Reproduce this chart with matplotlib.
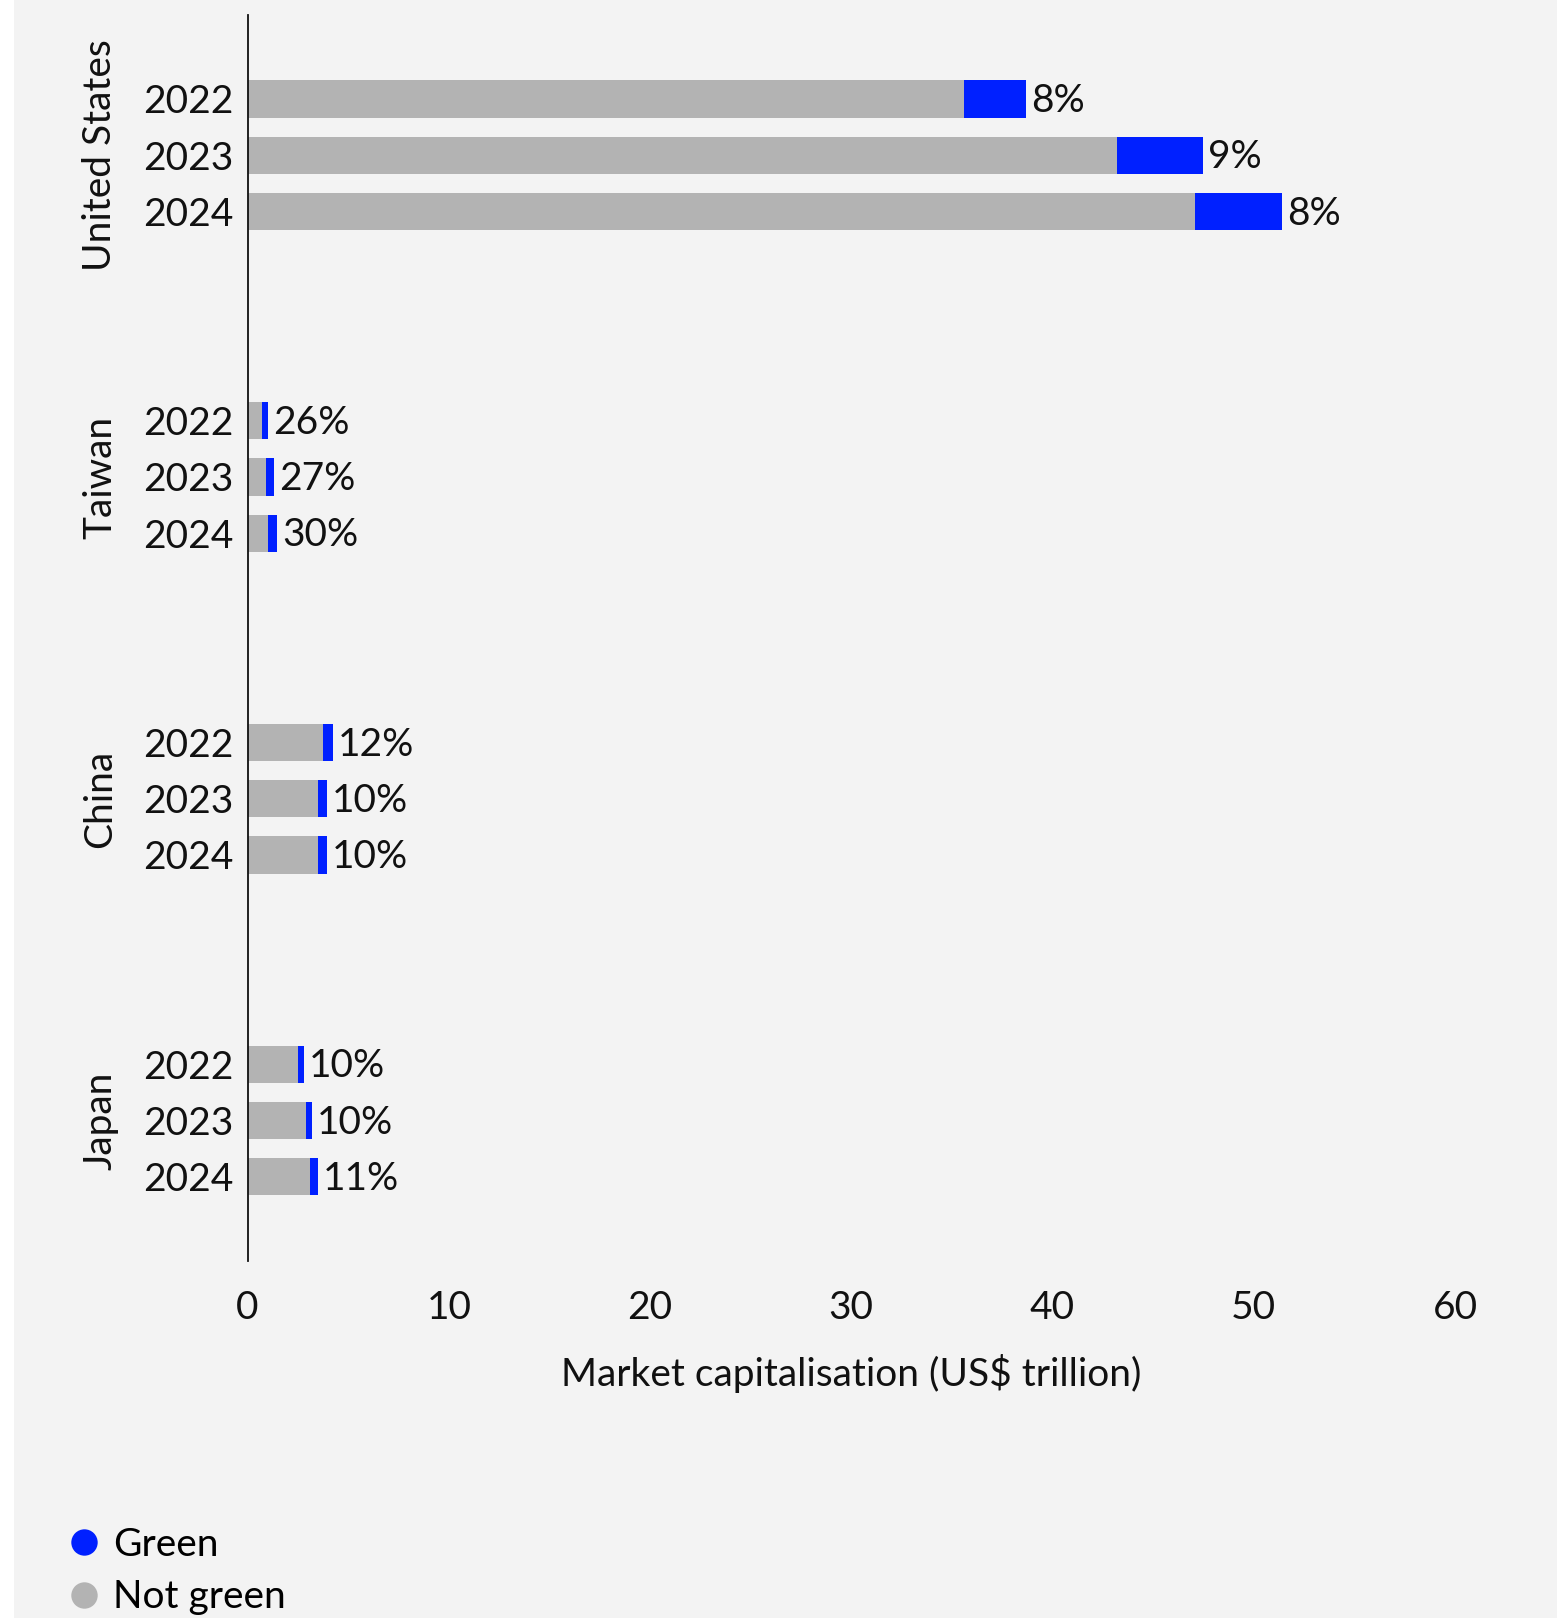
import matplotlib
matplotlib.use("Agg")
import matplotlib.pyplot as plt
from matplotlib.lines import Line2D
from matplotlib.patches import Rectangle
import matplotlib.transforms as mtransforms

plt.rcParams['font.family'] = ['Lato', 'DejaVu Sans']

countries = ["United States", "Taiwan", "China", "Japan"]
years = ["2022", "2023", "2024"]
# Market capitalisation, US$ trillion
not_green = [[35.6, 43.2, 47.1],
             [0.72, 0.92, 1.02],
             [3.75, 3.50, 3.50],
             [2.50, 2.88, 3.10]]
green = [[3.1, 4.3, 4.3],
         [0.28, 0.38, 0.44],
         [0.50, 0.45, 0.45],
         [0.30, 0.33, 0.40]]
pct_labels = [["8%", "9%", "8%"],
              ["26%", "27%", "30%"],
              ["12%", "10%", "10%"],
              ["10%", "10%", "11%"]]
xticks = [0, 10, 20, 30, 40, 50, 60]
xlabel = "Market capitalisation (US$ trillion)"
legend_labels = ["Green", "Not green"]

BLUE = "#0020ff"
GRAY = "#b3b3b3"
BG = "#f3f3f3"
TXT = "#111111"

fig = plt.figure(figsize=(15.57, 16.18), dpi=100)
fig.patch.set_facecolor("white")
fig.patches.append(Rectangle((14 / 1557, 0), 1, 1, transform=fig.transFigure,
                             facecolor=BG, edgecolor="none", zorder=-10))

ax = fig.add_axes([0.159, 0.2206, 0.9345 - 0.159, 0.991 - 0.2206])
ax.set_facecolor("none")

group_step = 5.72
positions, ylabels = [], []
for i, c in enumerate(countries):
    for j, y in enumerate(years):
        pos = i * group_step + j
        positions.append(pos)
        ylabels.append(y)
        ng = not_green[i][j]
        g = green[i][j]
        ax.barh(pos, ng, height=0.66, color=GRAY, edgecolor="none")
        ax.barh(pos, g, left=ng, height=0.66, color=BLUE, edgecolor="none")
        ax.text(ng + g + 0.25, pos + 0.04, pct_labels[i][j], va="center", ha="left",
                fontsize=28, color=TXT)
    trans = mtransforms.blended_transform_factory(fig.transFigure, ax.transData)
    ax.text(100 / 1557, i * group_step + 1, c, rotation=90, va="center", ha="center",
            fontsize=28, color=TXT, transform=trans)

ax.set_ylim(3 * group_step + 2 + 1.5, -1.5)
ax.set_xlim(0, 60)
ax.set_yticks(positions)
ax.set_yticklabels(ylabels, fontsize=28, color=TXT)
for lbl in ax.get_yticklabels():
    lbl.set_va("center_baseline")
ax.set_xticks(xticks)
ax.set_xticklabels([str(t) for t in xticks], fontsize=28, color=TXT)
ax.tick_params(axis="both", length=0)
ax.tick_params(axis="y", pad=10)
ax.tick_params(axis="x", pad=21)
ax.set_xlabel(xlabel, fontsize=28, color=TXT, labelpad=20)
for s in ["top", "right", "bottom"]:
    ax.spines[s].set_visible(False)
ax.spines["left"].set_color(TXT)
ax.spines["left"].set_linewidth(1.3)

handles = [Line2D([], [], marker="o", linestyle="none", markersize=19,
                  markerfacecolor=BLUE, markeredgecolor="none"),
           Line2D([], [], marker="o", linestyle="none", markersize=19,
                  markerfacecolor=GRAY, markeredgecolor="none")]
fig.legend(handles, legend_labels, loc="lower left", bbox_to_anchor=(0.0315, -0.008),
           frameon=False, fontsize=28, handletextpad=0.25, labelspacing=0.42,
           handlelength=1.0, borderaxespad=0)

fig.savefig("out.png", dpi=100, facecolor=fig.get_facecolor())
